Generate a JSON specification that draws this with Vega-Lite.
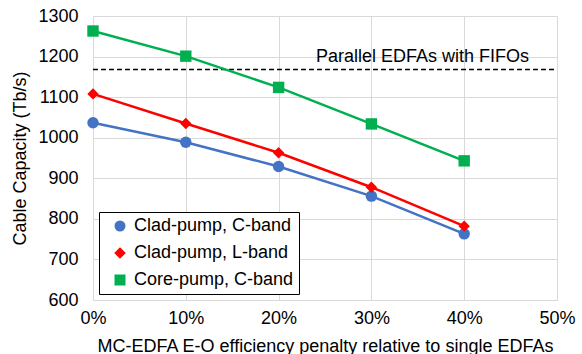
{
  "$schema": "https://vega.github.io/schema/vega-lite/v6.json",
  "width": 464,
  "height": 284,
  "autosize": {"type": "none"},
  "padding": {"left": 93, "top": 16, "right": 25, "bottom": 54},
  "background": "white",
  "config": {
    "font": "Liberation Sans",
    "view": {"stroke": null},
    "axis": {
      "labelFontSize": 18,
      "titleFontSize": 18,
      "labelColor": "#000000",
      "titleColor": "#000000",
      "titleFontWeight": "normal",
      "gridColor": "#d9d9d9",
      "gridWidth": 1,
      "domainColor": "#d9d9d9",
      "ticks": false,
      "labelOverlap": false,
      "labelFlush": false
    },
    "legend": {
      "title": null,
      "orient": "none",
      "legendX": 6,
      "legendY": 196,
      "strokeColor": "#000000",
      "fillColor": "#ffffff",
      "padding": 5,
      "labelFontSize": 18,
      "labelColor": "#000000",
      "labelLimit": 300,
      "symbolSize": 90,
      "rowPadding": 9,
      "symbolOffset": 7,
      "labelOffset": 5
    }
  },
  "datasets": {
    "series": [
      {"penalty": 0.0, "capacity": 1037, "series": "Clad-pump, C-band"},
      {"penalty": 0.1, "capacity": 989, "series": "Clad-pump, C-band"},
      {"penalty": 0.2, "capacity": 929, "series": "Clad-pump, C-band"},
      {"penalty": 0.3, "capacity": 856, "series": "Clad-pump, C-band"},
      {"penalty": 0.4, "capacity": 763, "series": "Clad-pump, C-band"},
      {"penalty": 0.0, "capacity": 1108, "series": "Clad-pump, L-band"},
      {"penalty": 0.1, "capacity": 1035, "series": "Clad-pump, L-band"},
      {"penalty": 0.2, "capacity": 963, "series": "Clad-pump, L-band"},
      {"penalty": 0.3, "capacity": 878, "series": "Clad-pump, L-band"},
      {"penalty": 0.4, "capacity": 782, "series": "Clad-pump, L-band"},
      {"penalty": 0.0, "capacity": 1263, "series": "Core-pump, C-band"},
      {"penalty": 0.1, "capacity": 1201, "series": "Core-pump, C-band"},
      {"penalty": 0.2, "capacity": 1124, "series": "Core-pump, C-band"},
      {"penalty": 0.3, "capacity": 1034, "series": "Core-pump, C-band"},
      {"penalty": 0.4, "capacity": 943, "series": "Core-pump, C-band"}
    ],
    "reference": [
      {"penalty": 0.0, "capacity": 1168, "label": "Parallel EDFAs with FIFOs"},
      {"penalty": 0.5, "capacity": 1168, "label": "Parallel EDFAs with FIFOs"}
    ],
    "refLabel": [
      {"penalty": 0.355, "capacity": 1168, "label": "Parallel EDFAs with FIFOs"}
    ]
  },
  "layer": [
    {
      "data": {"name": "reference"},
      "mark": {"type": "line", "color": "#000000", "strokeWidth": 1.5, "strokeDash": [5, 3]},
      "encoding": {
        "x": {
          "field": "penalty", "type": "quantitative",
          "scale": {"domain": [0, 0.5]},
          "axis": {"format": "%", "values": [0, 0.1, 0.2, 0.3, 0.4, 0.5], "labelPadding": 9, "titlePadding": 10,
                   "title": "MC-EDFA E-O efficiency penalty relative to single EDFAs"}
        },
        "y": {
          "field": "capacity", "type": "quantitative",
          "scale": {"domain": [600, 1300], "nice": false, "zero": false},
          "axis": {"format": "d", "values": [600, 700, 800, 900, 1000, 1100, 1200, 1300], "labelPadding": 15, "titlePadding": 8,
                   "title": "Cable Capacity (Tb/s)"}
        }
      }
    },
    {
      "data": {"name": "refLabel"},
      "mark": {"type": "text", "fontSize": 18, "dy": -8, "baseline": "alphabetic", "align": "center", "color": "#000000"},
      "encoding": {
        "x": {"field": "penalty", "type": "quantitative"},
        "y": {"field": "capacity", "type": "quantitative"},
        "text": {"field": "label"}
      }
    },
    {
      "data": {"name": "series"},
      "mark": {"type": "line", "strokeWidth": 2.5},
      "encoding": {
        "x": {"field": "penalty", "type": "quantitative"},
        "y": {"field": "capacity", "type": "quantitative"},
        "color": {
          "field": "series", "type": "nominal",
          "scale": {"domain": ["Clad-pump, C-band", "Clad-pump, L-band", "Core-pump, C-band"], "range": ["#4472C4", "#FF0000", "#00B050"]}
        }
      }
    },
    {
      "data": {"name": "series"},
      "mark": {"type": "point", "filled": true, "opacity": 1, "size": 130},
      "encoding": {
        "x": {"field": "penalty", "type": "quantitative"},
        "y": {"field": "capacity", "type": "quantitative"},
        "color": {"field": "series", "type": "nominal"},
        "shape": {
          "field": "series", "type": "nominal",
          "scale": {"domain": ["Clad-pump, C-band", "Clad-pump, L-band", "Core-pump, C-band"], "range": ["circle", "diamond", "square"]}
        }
      }
    }
  ]
}
